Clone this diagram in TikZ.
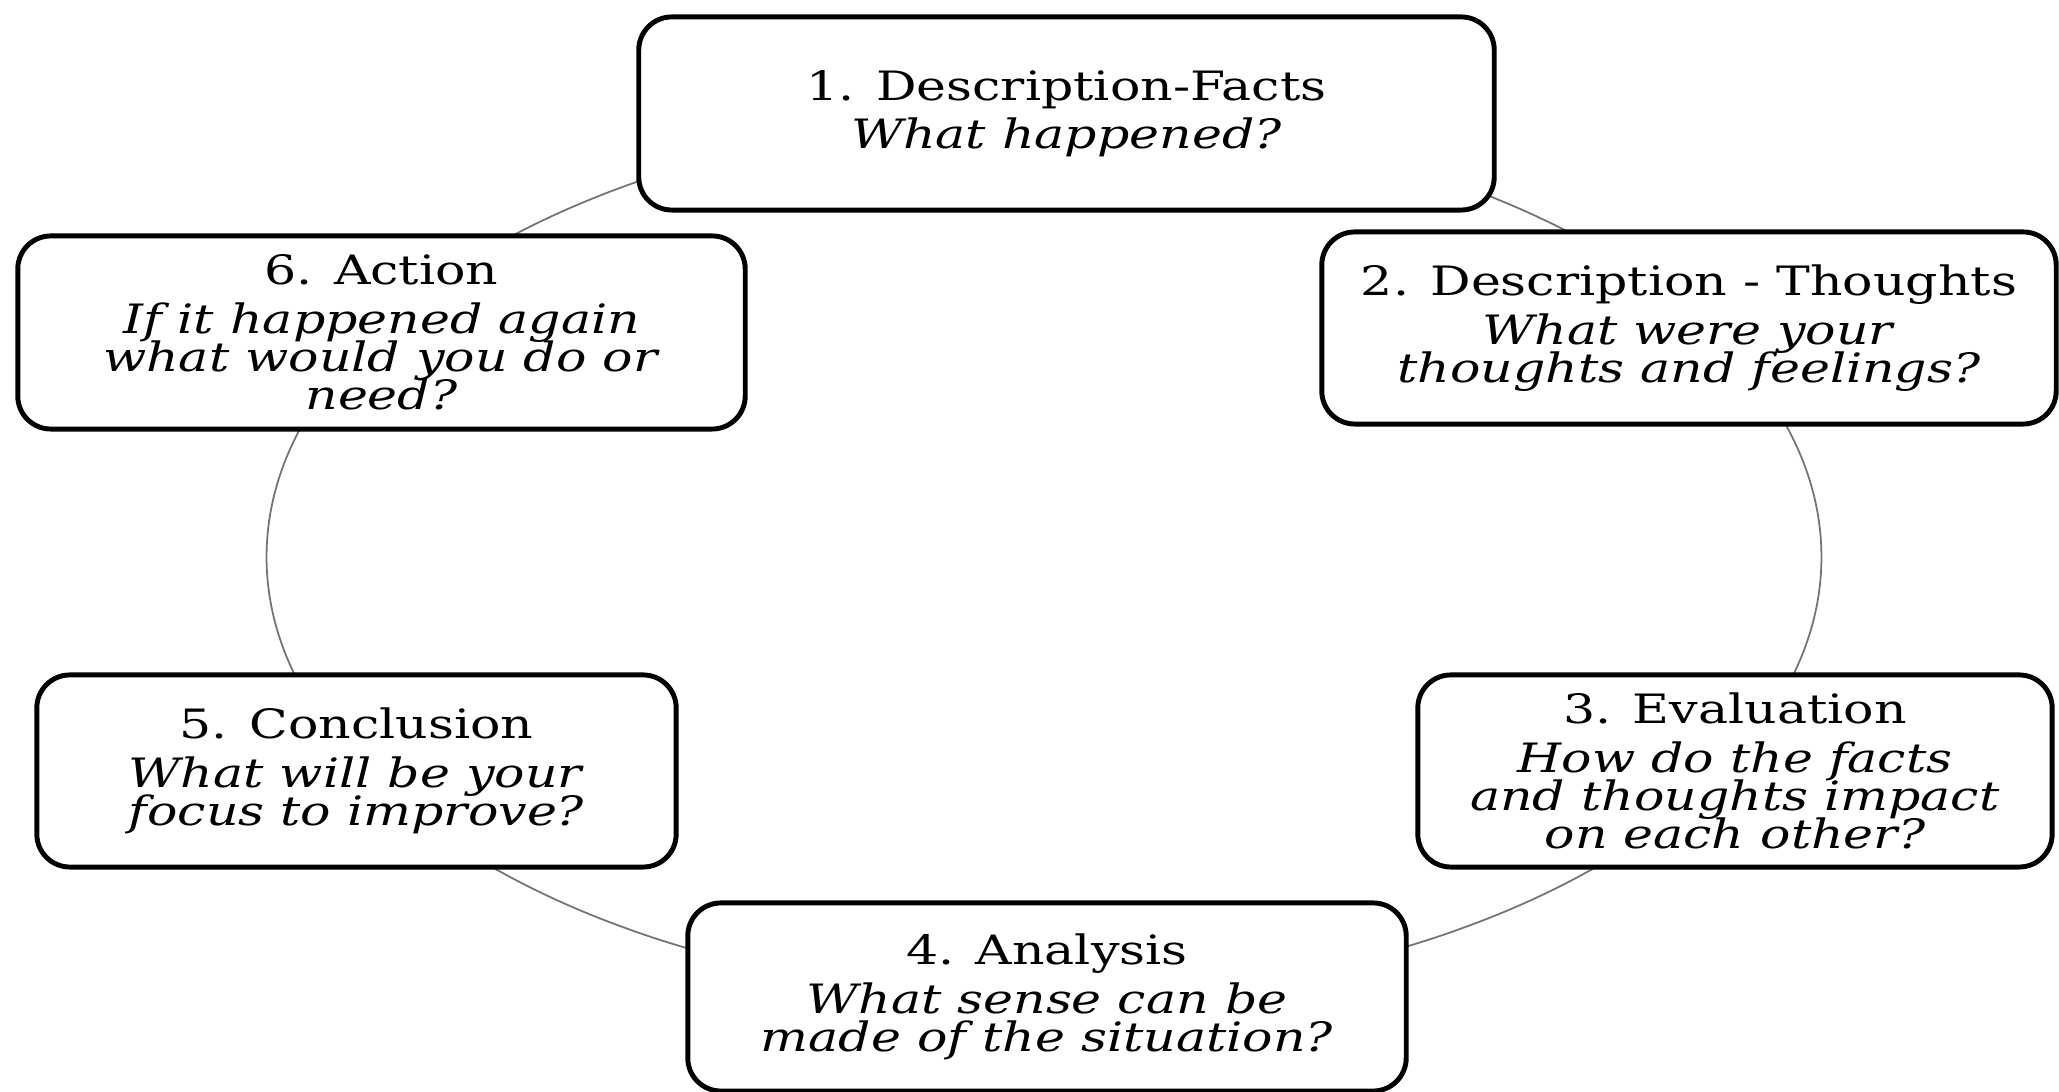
\documentclass[tikz,border=0pt]{standalone}
\usepackage{fontspec}
\setmainfont{DejaVu Serif}[FakeStretch=1.25]
\newcommand\myboxfont{\fontsize{11.5}{10.8}\selectfont\lineskiplimit=-30pt\lineskip=0pt\relax}
\begin{document}
\begin{tikzpicture}[x=0.01cm,y=-0.01cm,
  box/.style={draw=black, line width=1.4pt, rounded corners=0.33cm, fill=white, align=center, inner sep=0pt,
    font=\myboxfont},
  ring/.style={draw=black!55, line width=0.5pt}]
\useasboundingbox (0,0) rectangle (2059,1092);
\clip (0,0) rectangle (2059,1092);
\coordinate (c) at (1044,557);
\draw[ring] (c) ellipse [x radius=7.77cm, y radius=4.40cm];
\node[box, minimum width=8.55cm, minimum height=1.93cm] (b1) at (1066.5,113.5)
  {1. Description-Facts\\[3pt] \textit{What happened?}};
\node[box, minimum width=7.34cm, minimum height=1.92cm] (b2) at (1689,328)
  {2. Description - Thoughts\\[3pt] \textit{What were your}\\ \textit{thoughts and feelings?}};
\node[box, minimum width=6.34cm, minimum height=1.92cm] (b3) at (1735,771)
  {3. Evaluation\\[3pt] \textit{How do the facts}\\ \textit{and thoughts impact}\\ \textit{on each other?}};
\node[box, minimum width=7.18cm, minimum height=1.88cm] (b4) at (1047,997)
  {4. Analysis\\[3pt] \textit{What sense can be}\\ \textit{made of the situation?}};
\node[box, minimum width=6.39cm, minimum height=1.92cm] (b5) at (356.5,771)
  {5. Conclusion\\[3pt] \textit{What will be your}\\ \textit{focus to improve?}};
\node[box, minimum width=7.27cm, minimum height=1.93cm] (b6) at (381.5,332.5)
  {6. Action\\[3pt] \textit{If it happened again}\\ \textit{what would you do or}\\ \textit{need?}};
\end{tikzpicture}
\end{document}
